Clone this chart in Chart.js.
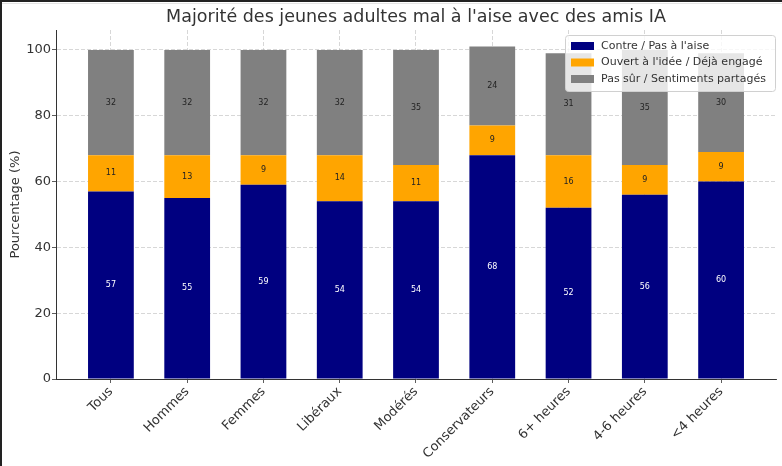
<!DOCTYPE html>
<html>
<head>
<meta charset="utf-8">
<script src="https://cdn.jsdelivr.net/npm/chart.js@4"></script>
<style>
    html, body { margin: 0; padding: 0; background: #fff; overflow: hidden; }
    canvas { display: block; }
</style>
</head>
<body>
<canvas id="chart" width="782" height="466"></canvas>
<script>
// Categories and values
const categories = ['Tous', 'Hommes', 'Femmes', 'Libéraux', 'Modérés', 'Conservateurs', '6+ heures', '4-6 heures', '<4 heures'];
const contre = [57, 55, 59, 54, 54, 68, 52, 56, 60];
const ouvert = [11, 13, 9, 14, 11, 9, 16, 9, 9];
const pasSur = [32, 32, 32, 32, 35, 24, 31, 35, 30];
const seriesNames = ['Contre / Pas à l\'aise', 'Ouvert à l\'idée / Déjà engagé', 'Pas sûr / Sentiments partagés'];
const seriesColors = ['#000080', '#FFA500', '#808080'];
const labelColors = ['#ffffff', '#222222', '#222222'];
const yTicks = [0, 20, 40, 60, 80, 100];

const FONT = "'DejaVu Sans', sans-serif";
const toPoints = arr => arr.map((v, i) => ({ x: i, y: v }));

// Thin dark frame on the top and left edges, as in the screenshot
const framePlugin = {
    id: 'frame',
    afterDraw(chart) {
        const { ctx, width, height } = chart;
        ctx.save();
        ctx.fillStyle = '#222';
        ctx.fillRect(0, 0, width, 2);
        ctx.fillRect(0, 0, 2, height);
        ctx.fillStyle = '#e4e4e4';
        ctx.fillRect(2, 3, width - 2, 1);
        ctx.restore();
    }
};

// Title drawn at the top, centred over the plot area
const titlePlugin = {
    id: 'topTitle',
    afterDraw(chart) {
        const { ctx, chartArea } = chart;
        ctx.save();
        ctx.font = '17.5px ' + FONT;
        ctx.fillStyle = '#333';
        ctx.textAlign = 'center';
        ctx.textBaseline = 'middle';
        ctx.fillText('Majorité des jeunes adultes mal à l\'aise avec des amis IA', (chartArea.left + chartArea.right) / 2, 17);
        ctx.restore();
    }
};

// Values written in the middle of each segment
const segmentLabels = {
    id: 'segmentLabels',
    afterDatasetsDraw(chart) {
        const { ctx } = chart;
        ctx.save();
        ctx.font = '8px ' + FONT;
        ctx.textAlign = 'center';
        ctx.textBaseline = 'middle';
        chart.data.datasets.forEach((ds, di) => {
            const meta = chart.getDatasetMeta(di);
            meta.data.forEach((bar, i) => {
                const { x, y, base } = bar.getProps(['x', 'y', 'base'], true);
                ctx.fillStyle = labelColors[di];
                ctx.fillText(String(ds.data[i].y), x, (y + base) / 2);
            });
        });
        ctx.restore();
    }
};

// Legend box inside the plot, top right
const boxLegend = {
    id: 'boxLegend',
    afterDraw(chart) {
        const { ctx, chartArea } = chart;
        const w = 210, h = 56;
        const x0 = chartArea.right - w - 1, y0 = chartArea.top + 5;
        ctx.save();
        ctx.fillStyle = 'rgba(255,255,255,0.8)';
        ctx.strokeStyle = '#d0d0d0';
        ctx.lineWidth = 1;
        ctx.beginPath();
        ctx.roundRect(x0 + 0.5, y0 + 0.5, w, h, 3);
        ctx.fill();
        ctx.stroke();
        ctx.font = '11px ' + FONT;
        ctx.textBaseline = 'middle';
        chart.data.datasets.forEach((ds, i) => {
            const cy = y0 + 11 + i * 16.5;
            ctx.fillStyle = ds.backgroundColor;
            ctx.fillRect(x0 + 6, cy - 4, 23, 8);
            ctx.fillStyle = '#333';
            ctx.fillText(ds.label, x0 + 36, cy);
        });
        ctx.restore();
    }
};

const gridOpts = {
    offset: false,
    color: 'rgba(170,170,170,0.6)',
    lineWidth: 0.8,
    tickColor: '#333',
    tickLength: 4,
    tickBorderDash: []
};

new Chart(document.getElementById('chart'), {
    type: 'bar',
    data: {
        datasets: [contre, ouvert, pasSur].map((vals, i) => ({
            label: seriesNames[i],
            data: toPoints(vals),
            backgroundColor: seriesColors[i],
            barPercentage: 0.6,
            categoryPercentage: 1.0
        }))
    },
    options: {
        responsive: false,
        animation: false,
        devicePixelRatio: 1,
        layout: { padding: { top: 30, right: 6, left: 0, bottom: 0 } },
        plugins: {
            legend: { display: false },
            title: { display: false },
            tooltip: { enabled: false }
        },
        scales: {
            x: {
                type: 'linear',
                stacked: true,
                offset: false,
                min: -0.72,
                max: 8.72,
                z: 1,
                afterBuildTicks(scale) {
                    scale.ticks = categories.map((c, i) => ({ value: i }));
                },
                afterFit(scale) { scale.height = 87; },
                ticks: {
                    autoSkip: false,
                    minRotation: 45,
                    maxRotation: 45,
                    padding: 1,
                    color: '#333',
                    font: { family: FONT, size: 13 },
                    callback: v => categories[v]
                },
                grid: gridOpts,
                border: { color: '#333', width: 1, dash: [4, 2] }
            },
            y: {
                stacked: true,
                min: 0,
                max: 106.05,
                z: 1,
                afterBuildTicks(scale) {
                    scale.ticks = yTicks.map(v => ({ value: v }));
                },
                afterFit(scale) { scale.width = 56; },
                title: {
                    display: true,
                    text: 'Pourcentage (%)',
                    color: '#333',
                    font: { family: FONT, size: 13 },
                    padding: { top: 8, bottom: 0 }
                },
                ticks: {
                    padding: 1,
                    color: '#333',
                    font: { family: FONT, size: 13 }
                },
                grid: gridOpts,
                border: { color: '#333', width: 1, dash: [4, 2] }
            }
        }
    },
    plugins: [titlePlugin, segmentLabels, boxLegend, framePlugin]
});
</script>
</body>
</html>
